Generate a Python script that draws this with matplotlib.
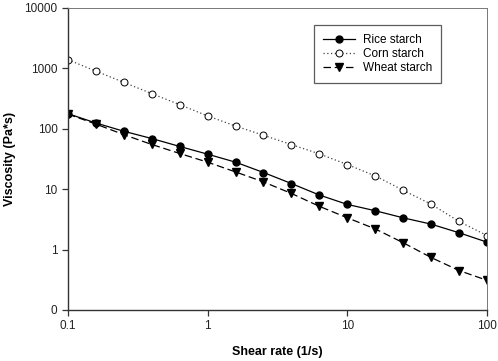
import matplotlib.pyplot as plt
from matplotlib.ticker import FixedLocator, FixedFormatter

plt.rcParams["font.family"] = ["Liberation Sans", "DejaVu Sans"]

# shear rate (1/s), 5 points per decade
shear_rate = [0.1, 0.158, 0.251, 0.398, 0.631, 1.0, 1.585, 2.51, 3.98, 6.31,
              10.0, 15.85, 25.1, 39.8, 63.1, 100.0]

rice = [178, 125, 91, 69, 51, 38, 28, 18.9, 12.4, 8.0,
        5.6, 4.4, 3.36, 2.64, 1.90, 1.33]
corn = [1393, 903, 587, 382, 251, 163, 111, 78, 54.8, 38.4,
        25.6, 16.6, 9.6, 5.65, 2.92, 1.71]
wheat = [175, 120, 80, 55, 39, 28, 19.3, 13.2, 8.5, 5.2,
         3.36, 2.2, 1.30, 0.74, 0.45, 0.31]

y_ticks = [0.1, 1, 10, 100, 1000, 10000]
y_tick_labels = ["0", "1", "10", "100", "1000", "10000"]
x_ticks = [0.1, 1, 10, 100]
x_tick_labels = ["0.1", "1", "10", "100"]

fig = plt.figure(figsize=(4.98, 3.61), dpi=100)
ax = fig.add_axes([68 / 498, 1 - 310 / 361, (487 - 68) / 498, (310 - 8) / 361])

ax.plot(shear_rate, rice, color="black", linestyle="-", linewidth=0.9,
        marker="o", markersize=5, markerfacecolor="black", label="Rice starch")
ax.plot(shear_rate, corn, color="#444444", linestyle=(0, (1, 2)), linewidth=0.9,
        marker="o", markersize=5, markerfacecolor="white",
        markeredgecolor="black", markeredgewidth=0.7, label="Corn starch")
ax.plot(shear_rate, wheat, color="black", linestyle=(0, (6, 3)), linewidth=0.9,
        marker="v", markersize=5.5, markerfacecolor="black", label="Wheat starch")

ax.set_xscale("log")
ax.set_yscale("log")
ax.set_xlim(0.1, 100)
ax.set_ylim(0.1, 10000)

ax.xaxis.set_major_locator(FixedLocator(x_ticks))
ax.xaxis.set_major_formatter(FixedFormatter(x_tick_labels))
ax.yaxis.set_major_locator(FixedLocator(y_ticks))
ax.yaxis.set_major_formatter(FixedFormatter(y_tick_labels))
ax.minorticks_off()

ax.tick_params(axis="both", direction="out", length=4, width=0.9,
               labelsize=8.5, color="#333333", labelcolor="#222222")
ax.tick_params(axis="x", pad=3)

for side in ["left", "bottom"]:
    ax.spines[side].set_color("#333333")
    ax.spines[side].set_linewidth(1.0)
for side in ["top", "right"]:
    ax.spines[side].set_color("#777777")
    ax.spines[side].set_linewidth(0.7)

ax.set_xlabel("Shear rate (1/s)", fontsize=9, fontweight="bold", labelpad=10)
ax.set_ylabel("Viscosity (Pa*s)", fontsize=9, fontweight="bold", labelpad=6)

leg = ax.legend(loc="upper right", bbox_to_anchor=(0.890, 0.944), fontsize=8.5,
                frameon=True, fancybox=False, handlelength=2.7,
                handletextpad=0.7, borderpad=0.75, borderaxespad=0,
                labelspacing=0.2)
leg.get_frame().set_edgecolor("#333333")
leg.get_frame().set_linewidth(0.9)

fig.savefig("out.png", dpi=100)
